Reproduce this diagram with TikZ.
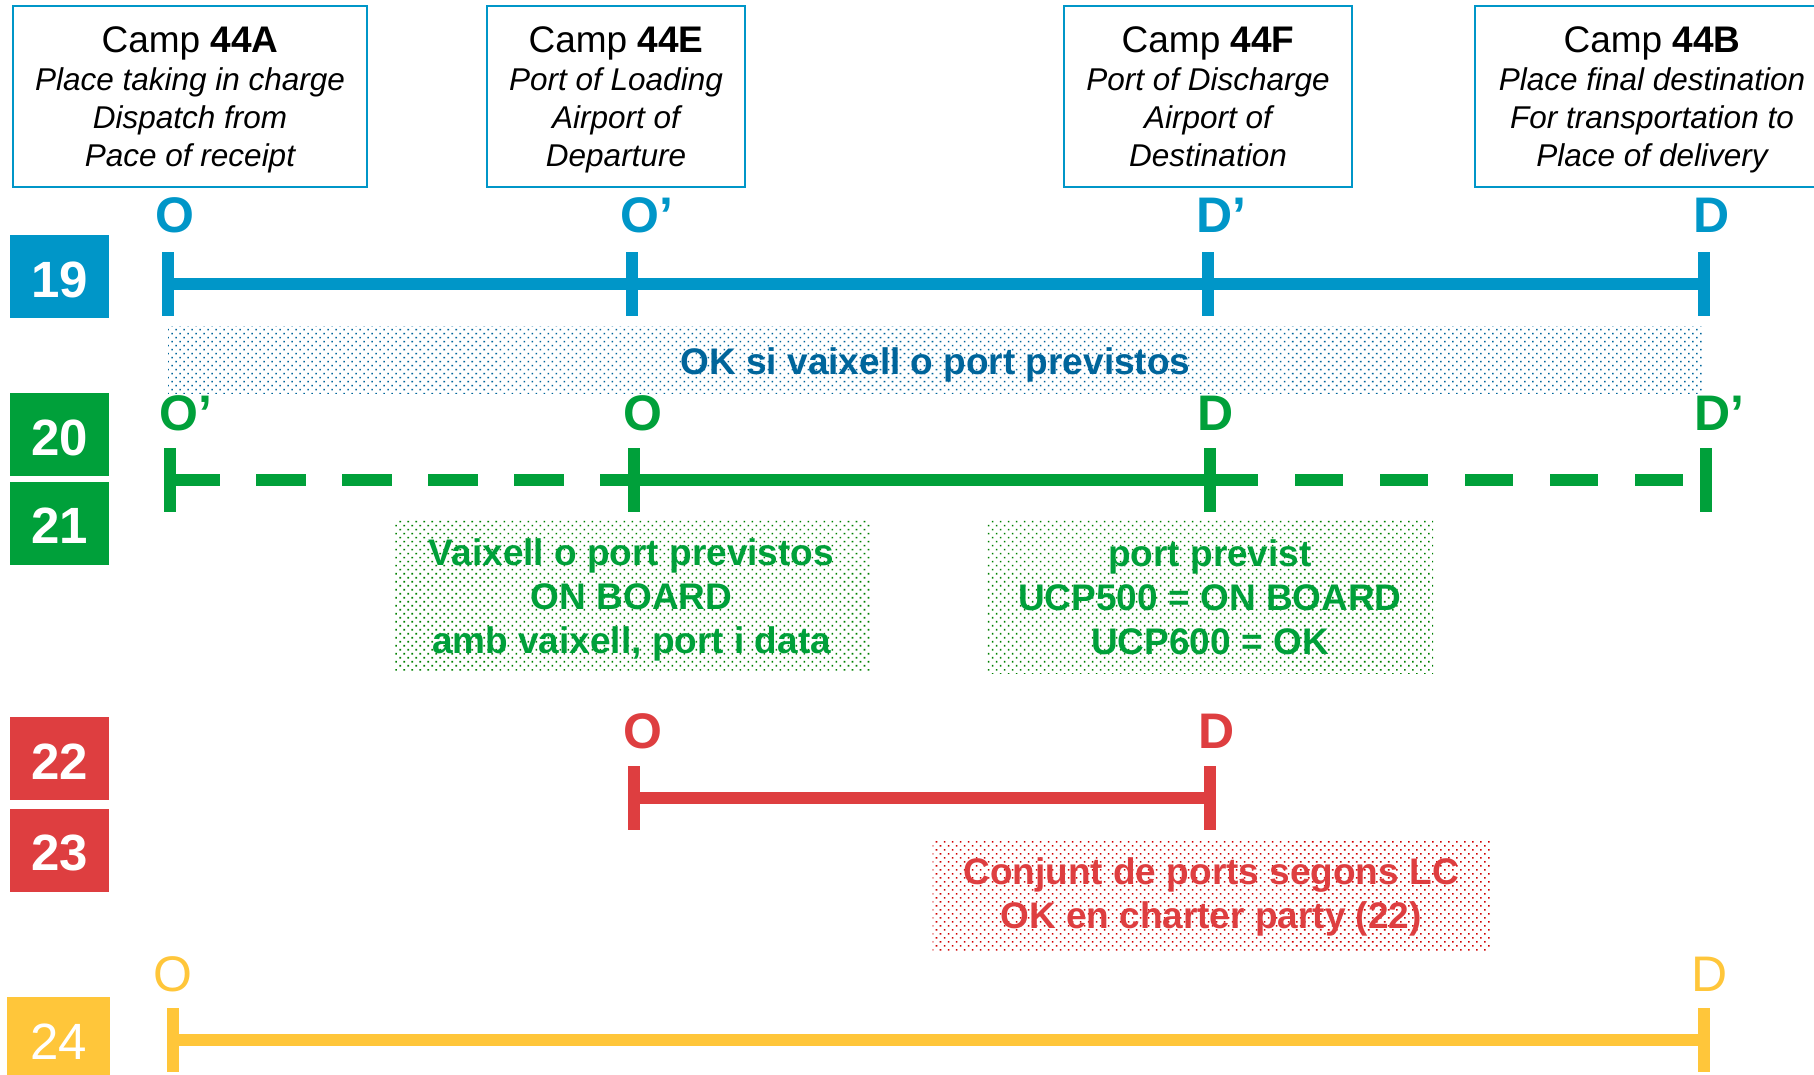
\documentclass[tikz,border=0pt]{standalone}
\usepackage{fontspec}
\setmainfont{Liberation Sans}
\usetikzlibrary{patterns.meta}
\definecolor{cblue}{RGB}{0,150,200}
\definecolor{cdblue}{RGB}{0,101,155}
\definecolor{cgreen}{RGB}{0,160,58}
\definecolor{cdgreen}{RGB}{0,128,0}
\definecolor{cred}{RGB}{222,62,64}
\definecolor{cdred}{RGB}{208,0,0}
\definecolor{cyellow}{RGB}{255,198,58}
\begin{document}
\begin{tikzpicture}[x=1pt,y=-1pt,
  campbox/.style={draw=cblue, line width=2pt, inner sep=0pt, minimum height=181pt, align=center,
    font=\fontsize{31.5}{38.3}\selectfont\itshape},
  badge/.style={fill=#1, text=white, inner sep=0pt, minimum width=99pt, minimum height=83pt,
    text height=41pt, text depth=0pt, font=\fontsize{51}{51}\selectfont\bfseries},
  lbl/.style={anchor=base west, inner sep=0pt, text=#1, font=\fontsize{50}{50}\selectfont\bfseries},
  track/.style={draw=#1, line width=12pt},
  tickmark/.style={draw=#1, line width=12pt},
  dotbox/.style 2 args={pattern={Dots[distance=5.66pt, angle=45, radius=1.1pt]}, pattern color=#2,
    text=#1, inner sep=0pt, align=center, font=\fontsize{37}{44}\selectfont\bfseries},
]
\useasboundingbox (0,0) rectangle (1814,1074);
\begin{scope}
\clip (0,0) rectangle (1814,1074);

% header boxes
\node[campbox, minimum width=354pt] (cA) at (190,96.5)
  {\rule{0pt}{34pt}{\fontsize{37}{38.3}\selectfont\upshape Camp \textbf{44A}}\\Place taking in charge\\Dispatch from\\Pace of receipt\rule[-8pt]{0pt}{8pt}};
\node[campbox, minimum width=258pt] (cE) at (616,96.5)
  {\rule{0pt}{34pt}{\fontsize{37}{38.3}\selectfont\upshape Camp \textbf{44E}}\\Port of Loading\\Airport of\\Departure\rule[-8pt]{0pt}{8pt}};
\node[campbox, minimum width=288pt] (cF) at (1208,96.5)
  {\rule{0pt}{34pt}{\fontsize{37}{38.3}\selectfont\upshape Camp \textbf{44F}}\\Port of Discharge\\Airport of\\Destination\rule[-8pt]{0pt}{8pt}};
\node[campbox, minimum width=354pt] (cB) at (1652,96.5)
  {\rule{0pt}{34pt}{\fontsize{37}{38.3}\selectfont\upshape Camp \textbf{44B}}\\Place final destination\\For transportation to\\Place of delivery\rule[-8pt]{0pt}{8pt}};

% badges
\node[badge=cblue] (n19) at (59.5,276.5) {19};
\node[badge=cgreen] (n20) at (59.5,434.5) {20};
\node[badge=cgreen] (n21) at (59.5,523) {21};
\node[badge=cred] (n22) at (59.5,758.5) {22};
\node[badge=cred] (n23) at (59.5,850) {23};
\node[badge=cyellow, minimum width=103pt, font=\fontsize{51}{51}\selectfont] (n24) at (58.5,1038.5) {24};

% dotted notes
\node[dotbox={cdblue}{cdblue}, minimum width=1535pt, minimum height=67pt, text height=36pt, text depth=7pt]
  (ok19) at (935.5,359.5) {OK si vaixell o port previstos};
\node[dotbox={cgreen}{cdgreen}, minimum width=477pt, minimum height=152pt] (g1note) at (631.5,596)
  {\rule{0pt}{35pt}Vaixell o port previstos\\ON BOARD\\amb vaixell, port i data\rule[-8pt]{0pt}{8pt}};
\node[dotbox={cgreen}{cdgreen}, minimum width=446pt, minimum height=153pt] (g2note) at (1210,596.5)
  {\rule{0pt}{35pt}port previst\\UCP500 = ON BOARD\\UCP600 = OK\rule[-8pt]{0pt}{8pt}};
\node[dotbox={cred}{cdred}, minimum width=557pt, minimum height=109pt] (rnote) at (1211,895.5)
  {\rule{0pt}{30pt}Conjunt de ports segons LC\\OK en charter party (22)\rule[-9pt]{0pt}{9pt}};

% row 19
\coordinate (b1) at (168,284);
\coordinate (b2) at (632,284);
\coordinate (b3) at (1208,284);
\coordinate (b4) at (1704,284);
\draw[track=cblue] (b1) -- (b4);
\foreach \p in {b1,b2,b3,b4} \draw[tickmark=cblue] (\p) ++(0,-32) -- ++(0,64);
\node[lbl=cblue] (lb1) at (155,232) {O};
\node[lbl=cblue] (lb2) at (620,232) {O’};
\node[lbl=cblue] (lb3) at (1196,232) {D’};
\node[lbl=cblue] (lb4) at (1693,232) {D};

% row 20/21
\coordinate (g1) at (170,480);
\coordinate (g2) at (634,480);
\coordinate (g3) at (1210,480);
\coordinate (g4) at (1706,480);
\draw[track=cgreen, dash pattern=on 50pt off 36pt] (g1) -- (g2);
\draw[track=cgreen] (g2) -- (g3);
\draw[track=cgreen, dash pattern=on 48pt off 37pt] (g3) -- (g4);
\foreach \p in {g1,g2,g3,g4} \draw[tickmark=cgreen] (\p) ++(0,-32) -- ++(0,64);
\node[lbl=cgreen] (lg1) at (159,430) {O’};
\node[lbl=cgreen] (lg2) at (623,430) {O};
\node[lbl=cgreen] (lg3) at (1197,430) {D};
\node[lbl=cgreen] (lg4) at (1694,430) {D’};

% row 22/23
\coordinate (r1) at (634,798);
\coordinate (r2) at (1210,798);
\draw[track=cred] (r1) -- (r2);
\foreach \p in {r1,r2} \draw[tickmark=cred] (\p) ++(0,-32) -- ++(0,64);
\node[lbl=cred] (lr1) at (623,748) {O};
\node[lbl=cred] (lr2) at (1198,748) {D};

% row 24
\coordinate (y1) at (173,1040);
\coordinate (y2) at (1704,1040);
\draw[track=cyellow] (y1) -- (y2);
\foreach \p in {y1,y2} \draw[tickmark=cyellow] (\p) ++(0,-32) -- ++(0,64);
\node[lbl=cyellow, font=\fontsize{50}{50}\selectfont] (ly1) at (153.5,991) {O};
\node[lbl=cyellow, font=\fontsize{50}{50}\selectfont] (ly2) at (1691,991) {D};
\end{scope}
\end{tikzpicture}
\end{document}
